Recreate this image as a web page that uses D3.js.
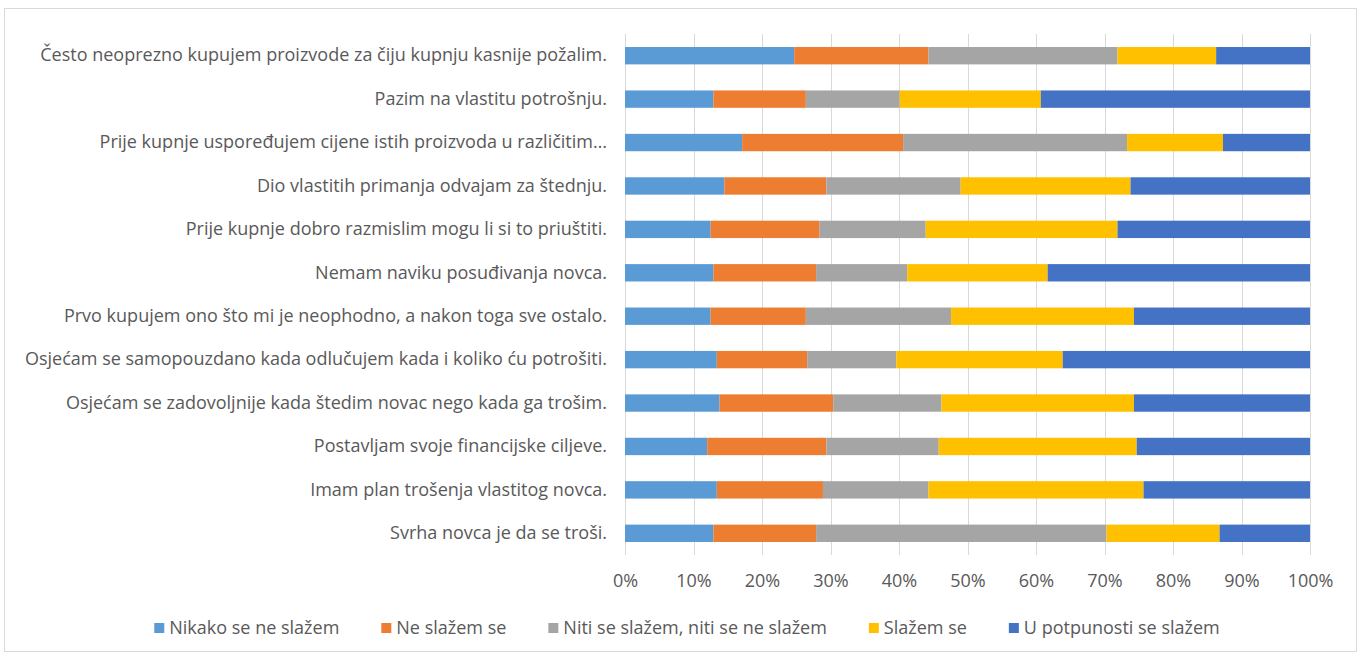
<!DOCTYPE html>
<html>
<head>
<meta charset="utf-8">
<script src="https://cdn.jsdelivr.net/npm/d3@7"></script>
<style>
  html, body { margin: 0; padding: 0; background: #fff; }
  svg { display: block; }
  text { font-family: "Open Sans", Lato, sans-serif; fill: #595959; }
</style>
</head>
<body>
<svg id="chart" width="1360" height="655"></svg>
<script>
// Survey statements, top to bottom
const categories = [
  "Često neoprezno kupujem proizvode za čiju kupnju kasnije požalim.",
  "Pazim na vlastitu potrošnju.",
  "Prije kupnje uspoređujem cijene istih proizvoda u različitim…",
  "Dio vlastitih primanja odvajam za štednju.",
  "Prije kupnje dobro razmislim mogu li si to priuštiti.",
  "Nemam naviku posuđivanja novca.",
  "Prvo kupujem ono što mi je neophodno, a nakon toga sve ostalo.",
  "Osjećam se samopouzdano kada odlučujem kada i koliko ću potrošiti.",
  "Osjećam se zadovoljnije kada štedim novac nego kada ga trošim.",
  "Postavljam svoje financijske ciljeve.",
  "Imam plan trošenja vlastitog novca.",
  "Svrha novca je da se troši."
];

// Answer categories (legend order)
const seriesNames = [
  "Nikako se ne slažem",
  "Ne slažem se",
  "Niti se slažem, niti se ne slažem",
  "Slažem se",
  "U potpunosti se slažem"
];

// Share of answers per statement (%), same order as categories
const nikako      = [24.7, 12.9, 17.1, 14.5, 12.5, 12.9, 12.5, 13.4, 13.8, 12.0, 13.4, 12.9];
const neSlazem    = [19.6, 13.5, 23.5, 14.9, 15.9, 15.0, 13.9, 13.2, 16.6, 17.4, 15.5, 15.0];
const niti        = [27.6, 13.7, 32.7, 19.6, 15.5, 13.3, 21.2, 13.0, 15.8, 16.4, 15.4, 42.4];
const slazem      = [14.4, 20.6, 14.0, 24.8, 28.0, 20.5, 26.7, 24.3, 28.1, 28.9, 31.4, 16.5];
const uPotpunosti = [13.7, 39.3, 12.7, 26.2, 28.1, 38.3, 25.7, 36.1, 25.7, 25.3, 24.3, 13.2];

const tickValues = [0, 0.1, 0.2, 0.3, 0.4, 0.5, 0.6, 0.7, 0.8, 0.9, 1.0];

const colors = ["#5B9BD5", "#ED7D31", "#A5A5A5", "#FFC000", "#4472C4"];

const seriesValues = [nikako, neSlazem, niti, slazem, uPotpunosti];
const rows = categories.map((c, i) => {
  const r = { category: c };
  seriesNames.forEach((s, k) => { r[s] = seriesValues[k][i]; });
  return r;
});

const svg = d3.select("#chart");
const plot = { left: 625, right: 1310, top: 34, bottom: 555 };
const fontSize = 18;

// outer chart border
svg.append("rect")
  .attr("x", 4.5).attr("y", 8.5)
  .attr("width", 1352).attr("height", 643)
  .attr("fill", "#fff").attr("stroke", "#D9D9D9").attr("stroke-width", 1);

const x = d3.scaleLinear().domain([0, 1]).range([plot.left, plot.right]);
const y = d3.scaleBand().domain(categories)
  .range([plot.top, plot.bottom])
  .paddingInner(0.6).paddingOuter(0.3);

// vertical gridlines
svg.append("g")
  .selectAll("line")
  .data(tickValues)
  .join("line")
  .attr("x1", d => Math.round(x(d)) + 0.5)
  .attr("x2", d => Math.round(x(d)) + 0.5)
  .attr("y1", plot.top).attr("y2", plot.bottom)
  .attr("stroke", "#D9D9D9").attr("stroke-width", 1);

// stacked 100% bars
const stack = d3.stack().keys(seriesNames).offset(d3.stackOffsetExpand);
const layers = stack(rows);

svg.append("g")
  .selectAll("g")
  .data(layers)
  .join("g")
  .attr("fill", (d, i) => colors[i])
  .selectAll("rect")
  .data(d => d)
  .join("rect")
  .attr("x", d => x(d[0]))
  .attr("width", d => x(d[1]) - x(d[0]))
  .attr("y", d => y(d.data.category))
  .attr("height", y.bandwidth());

// bottom axis labels
const xAxis = d3.axisBottom(x)
  .tickValues(tickValues)
  .tickFormat(d3.format(".0%"))
  .tickSize(0)
  .tickPadding(0);

const gx = svg.append("g")
  .attr("transform", `translate(0, ${plot.bottom + 19})`)
  .call(xAxis);
gx.select(".domain").remove();
gx.selectAll("text")
  .attr("font-size", fontSize)
  .attr("font-family", "'Open Sans', Lato, sans-serif")
  .attr("fill", "#595959");

// category axis labels
const yAxis = d3.axisLeft(y).tickSize(0).tickPadding(18);
const gy = svg.append("g")
  .attr("transform", `translate(${plot.left}, 0)`)
  .call(yAxis);
gy.select(".domain").remove();
gy.selectAll("text")
  .attr("font-size", fontSize)
  .attr("font-family", "'Open Sans', Lato, sans-serif")
  .attr("fill", "#595959");

// legend, centred below the axis
const legend = svg.append("g").attr("transform", "translate(0, 628)");
const items = legend.selectAll("g")
  .data(seriesNames)
  .join("g");
items.append("rect")
  .attr("width", 10).attr("height", 10)
  .attr("y", -5)
  .attr("fill", (d, i) => colors[i]);
items.append("text")
  .attr("x", 15)
  .attr("dy", "0.35em")
  .attr("font-size", fontSize)
  .text(d => d);

const gap = 42;
const widths = [];
items.each(function () { widths.push(this.querySelector("text").getComputedTextLength() + 15); });
const total = d3.sum(widths) + gap * (widths.length - 1);
let cx = 687 - total / 2;
items.each(function (d, i) {
  d3.select(this).attr("transform", `translate(${cx}, 0)`);
  cx += widths[i] + gap;
});
</script>
</body>
</html>
